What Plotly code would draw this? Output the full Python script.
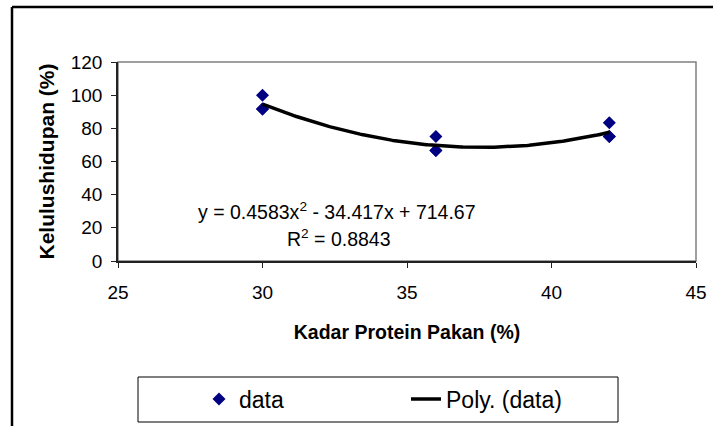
import numpy as np
import plotly.graph_objects as go

# data
protein = [30, 30, 30, 36, 36, 36, 42, 42, 42]
survival = [100, 91.67, 91.67, 75, 66.67, 66.67, 83.33, 75, 75]
poly_coef = [0.4583, -34.417, 714.67]   # trendline as printed on chart
r_squared = 0.8843
x_ticks = [25, 30, 35, 40, 45]
y_ticks = [0, 20, 40, 60, 80, 100, 120]

FONT = "Arial, Liberation Sans, sans-serif"

xs = np.linspace(min(protein), max(protein), 200)
ys = np.polyval(poly_coef, xs)

fig = go.Figure()
fig.add_trace(go.Scatter(
    x=protein, y=survival, mode="markers", name="data",
    marker=dict(symbol="diamond", size=10, color="#000080"),
))
fig.add_trace(go.Scatter(
    x=xs, y=ys, mode="lines", name="Poly. (data)",
    line=dict(color="black", width=3.5),
))

L, R, T, B = 118, 17, 62, 165
W, H = 713, 426
pw, ph = W - L - R, H - T - B


def px(x):
    return (x - L) / pw


def py(y):
    return (H - B - y) / ph


eq = "y = %.4fx<sup>2</sup> - %.3fx + %.2f" % (poly_coef[0], -poly_coef[1], poly_coef[2])
fig.add_annotation(x=32.58, y=30.3, xref="x", yref="y", text=eq, showarrow=False,
                   font=dict(family=FONT, size=19.5, color="black"))
fig.add_annotation(x=32.66, y=13.8, xref="x", yref="y",
                   text="R<sup>2</sup> = %.4f" % r_squared, showarrow=False,
                   font=dict(family=FONT, size=19.5, color="black"))

# plot area border (top/right grey)
fig.add_shape(type="rect", xref="paper", yref="paper", x0=0, y0=0, x1=1, y1=1,
              line=dict(color="#808080", width=1.5), layer="below")
# outer chart frame (left and top edges visible within the canvas)
fig.add_shape(type="line", xref="paper", yref="paper",
              x0=px(12), y0=py(426), x1=px(12), y1=py(7),
              line=dict(color="black", width=2.5))
fig.add_shape(type="line", xref="paper", yref="paper",
              x0=px(12), y0=py(7), x1=px(713), y1=py(7),
              line=dict(color="black", width=2.5))
# legend frame
fig.add_shape(type="rect", xref="paper", yref="paper",
              x0=px(138), y0=py(422), x1=px(618), y1=py(377),
              line=dict(color="black", width=1))

fig.update_layout(
    width=W, height=H,
    margin=dict(l=L, r=R, t=T, b=B, autoexpand=False),
    paper_bgcolor="white", plot_bgcolor="white",
    font=dict(family=FONT, size=19, color="black"),
    showlegend=True,
    legend=dict(orientation="h", x=px(199), y=py(399), xanchor="left", yanchor="middle",
                entrywidth=162, entrywidthmode="pixels",
                font=dict(family=FONT, size=23, color="black"),
                bgcolor="rgba(0,0,0,0)", borderwidth=0),
    xaxis=dict(range=[25, 45], tickvals=x_ticks, showgrid=False, zeroline=False,
               showline=True, linecolor="#222", linewidth=1.5, automargin=False,
               ticks="outside", ticklen=5, tickcolor="#222", ticklabelstandoff=8,
               tickfont=dict(size=19),
               title=dict(text="<b>Kadar Protein Pakan (%)</b>", font=dict(size=19.5), standoff=24)),
    yaxis=dict(range=[0, 120], tickvals=y_ticks, showgrid=False, zeroline=False,
               showline=True, linecolor="#222", linewidth=1.5, automargin=False,
               ticks="outside", ticklen=5, tickcolor="#222", ticklabelstandoff=5,
               tickfont=dict(size=19),
               title=dict(text="<b>Kelulushidupan (%)</b>", font=dict(size=21), standoff=10)),
)

post = (
    "var st=document.createElement('style');"
    "st.textContent='html,body{margin:0!important;padding:0!important;overflow:hidden!important;}';"
    "document.head.appendChild(st);"
)
fig.write_html("out.html", config={"displayModeBar": False}, post_script=post)
